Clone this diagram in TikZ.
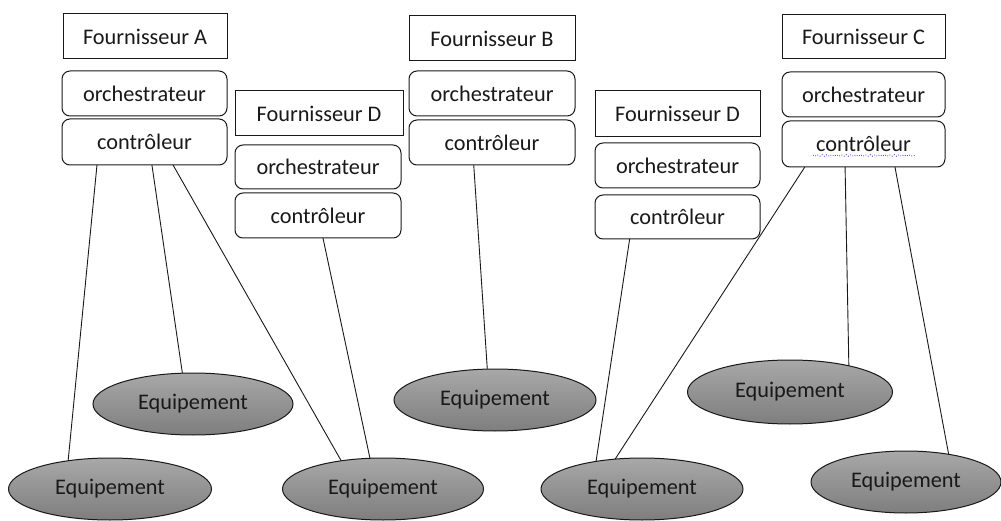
\documentclass[tikz,border=0pt]{standalone}
\usepackage{fontspec}
\setmainfont{Carlito}
\usetikzlibrary{shapes.geometric,calc,decorations.pathmorphing}
\definecolor{eqtop}{RGB}{168,168,168}
\definecolor{eqbot}{RGB}{126,126,126}
\definecolor{ink}{RGB}{25,25,25}
\definecolor{spell}{RGB}{60,60,235}
\begin{document}
\begin{tikzpicture}[x=1pt,y=-1pt,
  every node/.style={font=\fontsize{22.3}{26}\selectfont, text=ink, inner sep=0pt, outer sep=0pt},
  vendor/.style={draw=ink, line width=1pt, fill=white, minimum height=45pt},
  layer/.style={vendor, rounded corners=8pt},
  equip/.style={ellipse, draw=ink, line width=1pt, top color=eqtop, bottom color=eqbot,
                minimum width=201pt, minimum height=62pt},
  link/.style={draw=ink, line width=0.9pt}]
\useasboundingbox (0,0) rectangle (1001,521);

% Supplier A
\node[vendor, minimum width=164pt] (fA) at (145,36.5) {Fournisseur A};
\node[layer, minimum width=165pt] (oA) at (144.5,93.5) {orchestrateur};
\node[layer, minimum width=165pt, minimum height=46pt] (cA) at (144.5,142) {contrôleur};

% Supplier D (first)
\node[vendor, minimum width=168pt] (fD1) at (319,113.5) {Fournisseur D};
\node[layer, minimum width=166pt, minimum height=44pt] (oD1) at (318,167) {orchestrateur};
\node[layer, minimum width=166pt] (cD1) at (318,215.5) {contrôleur};

% Supplier B
\node[vendor, minimum width=166pt] (fB) at (492,38.5) {Fournisseur B};
\node[layer, minimum width=166pt] (oB) at (492,93.5) {orchestrateur};
\node[layer, minimum width=166pt] (cB) at (492,142.5) {contrôleur};

% Supplier D (second)
\node[vendor, minimum width=165pt, minimum height=46pt] (fD2) at (677.5,114) {Fournisseur D};
\node[layer, minimum width=165pt] (oD2) at (677.5,165.5) {orchestrateur};
\node[layer, minimum width=165pt, minimum height=44pt] (cD2) at (677.5,217) {contrôleur};

% Supplier C
\node[vendor, minimum width=163pt, minimum height=44pt] (fC) at (863.5,37) {Fournisseur C};
\node[layer, minimum width=163pt] (oC) at (863.5,94.5) {orchestrateur};
\node[layer, minimum width=163pt, minimum height=46pt] (cC) at (863.5,144) {contrôleur};

% spell-check squiggle under the last controller label
\coordinate (sqL) at ($(cC.center)+(-50.5,11.5)$);
\coordinate (sqR) at ($(cC.center)+(51.5,11.5)$);
\draw[spell, line width=0.8pt, dotted, decorate,
      decoration={snake, amplitude=0.8pt, segment length=4pt}] (sqL) -- (sqR);

% Equipment
\node[equip, minimum width=203pt] (e1) at (110,489) {Equipement};
\node[equip, minimum width=200pt] (e2) at (193,404) {Equipement};
\node[equip] (e3) at (383,489) {Equipement};
\node[equip, minimum width=202pt] (e4) at (495,400) {Equipement};
\node[equip, minimum width=202pt] (e5) at (642,489) {Equipement};
\node[equip, minimum width=205pt, minimum height=64pt] (e6) at (790,392) {Equipement};
\node[equip, minimum width=190pt] (e7) at (906,482) {Equipement};

% Controller-to-equipment links
\draw[link] ($(cA.south west)!0.212!(cA.south east)$) -- (e1.146);
\draw[link] ($(cA.south west)!0.545!(cA.south east)$) -- (e2.109);
\draw[link] ($(cA.south west)!0.673!(cA.south east)$) -- (e3.146);
\draw[link] ($(cD1.south west)!0.53!(cD1.south east)$) -- (e3.113);
\draw[link] ($(cB.south west)!0.39!(cB.south east)$) -- (e4.104);
\draw[link] ($(cD2.south west)!0.21!(cD2.south east)$) -- (e5.149);
\draw[link] ($(cC.south west)!0.14!(cC.south east)$) -- (e5.132);
\draw[link] ($(cC.south west)!0.387!(cC.south east)$) -- (e6.24);
\draw[link] ($(cC.south west)!0.693!(cC.south east)$) -- (e7.33);
\end{tikzpicture}
\end{document}
